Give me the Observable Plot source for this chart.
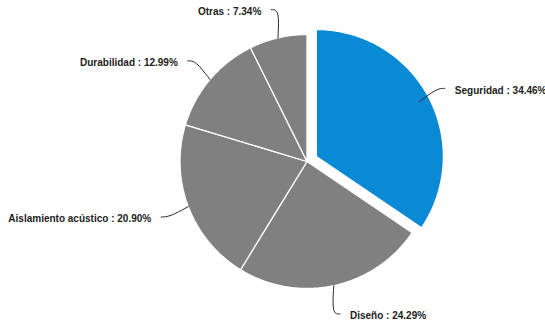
<!DOCTYPE html>
<html><head><meta charset="utf-8">
<script src="https://cdn.jsdelivr.net/npm/d3@7"></script>
<script src="https://cdn.jsdelivr.net/npm/@observablehq/plot@0.6"></script>
<style>body{margin:0;background:#fff}</style>
</head><body><div id="chart"></div>
<script>
const categories = ["Seguridad", "Diseño", "Aislamiento acústico", "Durabilidad", "Otras"];
const values = [34.46, 24.29, 20.90, 12.99, 7.34];
const sliced = [true, false, false, false, false];

// layout / style
const W = 545, H = 320, CX = 306.5, CY = 161, R = 127;
const SLICE_COLORS = ["#0a8ad5", "#808080", "#808080", "#808080", "#808080"];
const OFFSET = 10.6 / R, LEAD = 156 / R, BEND = 8 / R, GAP = 10 / R;

const total = d3.sum(values);
let acc = 0;
const slices = categories.map((c, i) => {
  const a0 = acc / total * 2 * Math.PI; acc += values[i];
  const a1 = acc / total * 2 * Math.PI;
  return {c, v: values[i], a0, a1, mid: (a0 + a1) / 2, i};
});

const pts = [];
for (const s of slices) {
  const dx = sliced[s.i] ? OFFSET * Math.sin(s.mid) : 0;
  const dy = sliced[s.i] ? OFFSET * Math.cos(s.mid) : 0;
  const col = SLICE_COLORS[s.i];
  pts.push({k: s.c, x: dx, y: dy, fill: col});
  const n = Math.max(2, Math.ceil((s.a1 - s.a0) / (Math.PI / 360)));
  for (let j = 0; j <= n; j++) {
    const a = s.a0 + (s.a1 - s.a0) * j / n;
    pts.push({k: s.c, x: dx + Math.sin(a), y: dy + Math.cos(a), fill: col});
  }
  pts.push({k: s.c, x: dx, y: dy, fill: col});
}

const leaders = [];
const labels = [];
for (const s of slices) {
  const sx = Math.sin(s.mid), sy = Math.cos(s.mid);
  const right = sx > 0;
  const ex = LEAD * sx, ey = LEAD * sy;
  leaders.push({k: s.c, x: ex, y: ey});
  leaders.push({k: s.c, x: ex + (right ? -BEND : BEND), y: ey});
  leaders.push({k: s.c, x: sx, y: sy});
  labels.push({x: ex + (right ? GAP : -GAP), y: ey - 2 / R, right,
    text: `${s.c} : ${s.v.toFixed(2)}%`});
}

const textOpts = {x: "x", y: "y", text: "text", fontSize: 10, fontWeight: "bold",
  fill: "#1c1c1c", fontFamily: "'Liberation Sans', Arial, sans-serif"};

const chart = Plot.plot({
  width: W, height: H, margin: 0,
  x: {domain: [-CX / R, (W - CX) / R], axis: null},
  y: {domain: [-(H - CY) / R, CY / R], axis: null},
  color: {type: "identity"},
  style: {background: "#fff"},
  marks: [
    Plot.line(pts, {x: "x", y: "y", z: "k", fill: "fill", stroke: "#fff", strokeWidth: 1.3, strokeLinejoin: "round"}),
    Plot.line(leaders, {x: "x", y: "y", z: "k", curve: "basis", stroke: "#2a2a2a", strokeWidth: 1}),
    Plot.text(labels.filter(d => d.right), {...textOpts, textAnchor: "start"}),
    Plot.text(labels.filter(d => !d.right), {...textOpts, textAnchor: "end"})
  ]
});
document.getElementById("chart").append(chart);
</script>
</body></html>
